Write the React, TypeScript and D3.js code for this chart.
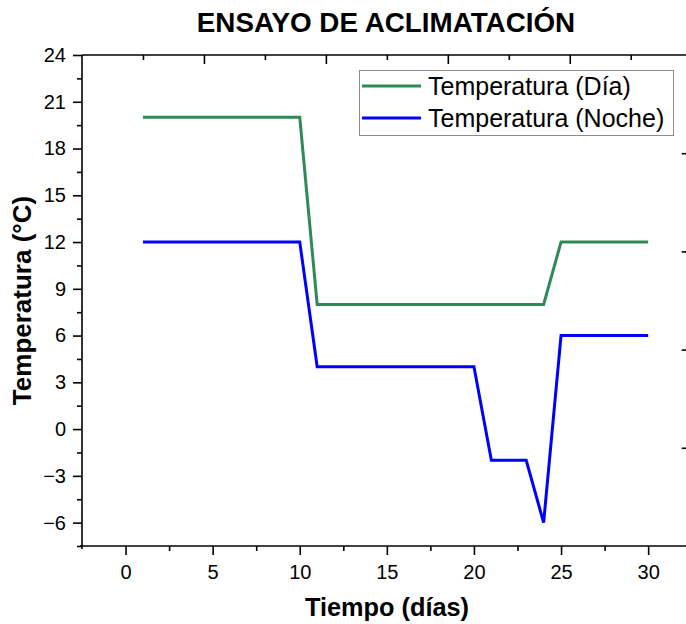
import React, { useEffect, useRef } from 'react';
import * as d3 from 'd3';

// Temperatura de día
const diaTiempo = [1, 10, 11, 24, 25, 30];
const diaTemp = [20, 20, 8, 8, 12, 12];

// Temperatura de noche
const nocheTiempo = [1, 10, 11, 20, 21, 23, 24, 25, 30];
const nocheTemp = [12, 12, 4, 4, -2, -2, -6, 6, 6];

const xTicks = [0, 5, 10, 15, 20, 25, 30];
const yTicks = [-6, -3, 0, 3, 6, 9, 12, 15, 18, 21, 24];

const series = [
  { name: 'Temperatura (Día)', color: '#2e8b57', xs: diaTiempo, ys: diaTemp },
  { name: 'Temperatura (Noche)', color: '#0000ff', xs: nocheTiempo, ys: nocheTemp },
];

const W = 686;
const H = 624;
const FONT = '"Liberation Sans", Arial, sans-serif';

function App() {
  const ref = useRef<SVGSVGElement>(null);

  useEffect(() => {
    const svg = d3.select(ref.current);
    svg.selectAll('*').remove();

    const left = 82, right = 691.7, top = 55, bottom = 546;

    const x = d3.scaleLinear().domain([-2.5, 32.5]).range([left, right]);
    const y = d3.scaleLinear().domain([-7.5, 24]).range([bottom, top]);
    const xTop = d3.scaleLinear().domain([0, 10]).range([left, right]);
    const yRight = d3.scaleLinear().domain([0, 5]).range([bottom, top]);

    const styleAxis = (g: any) => {
      g.select('.domain').remove();
      g.selectAll('line').attr('stroke', '#000').attr('stroke-width', 1.6);
      g.selectAll('text')
        .attr('font-family', FONT)
        .attr('font-size', 20)
        .attr('fill', '#000');
    };

    // bottom axis
    svg.append('g')
      .attr('transform', `translate(0,${bottom})`)
      .call(d3.axisBottom(x).tickValues(xTicks).tickSize(9).tickPadding(10).tickFormat(d3.format('d')))
      .call(styleAxis);
    svg.append('g')
      .attr('transform', `translate(0,${bottom})`)
      .call(d3.axisBottom(x).tickValues(xTicks.slice(0, -1).map(d => d + 2.5)).tickSize(5).tickFormat(() => ''))
      .call(styleAxis);

    // left axis
    svg.append('g')
      .attr('transform', `translate(${left},0)`)
      .call(d3.axisLeft(y).tickValues(yTicks).tickSize(9).tickPadding(7).tickFormat(d3.format('d')))
      .call(styleAxis);
    svg.append('g')
      .attr('transform', `translate(${left},0)`)
      .call(d3.axisLeft(y).tickValues(yTicks.map(d => d - 1.5)).tickSize(5).tickFormat(() => ''))
      .call(styleAxis);

    // top axis (inward ticks)
    svg.append('g')
      .attr('transform', `translate(0,${top})`)
      .call(d3.axisBottom(xTop).tickValues([2, 4, 6, 8]).tickSize(9).tickFormat(() => ''))
      .call(styleAxis);
    svg.append('g')
      .attr('transform', `translate(0,${top})`)
      .call(d3.axisBottom(xTop).tickValues([1, 3, 5, 7, 9]).tickSize(5).tickFormat(() => ''))
      .call(styleAxis);

    // right axis (inward ticks)
    svg.append('g')
      .attr('transform', `translate(${right},0)`)
      .call(d3.axisLeft(yRight).tickValues([1, 2, 3, 4]).tickSize(10).tickFormat(() => ''))
      .call(styleAxis);

    // frame
    const frame = svg.append('g').attr('stroke', '#000').attr('stroke-width', 1.6).attr('fill', 'none');
    frame.append('line').attr('x1', left).attr('x2', left).attr('y1', top).attr('y2', bottom + 3);
    frame.append('line').attr('x1', left - 2).attr('x2', right).attr('y1', bottom).attr('y2', bottom);
    frame.append('line').attr('x1', left).attr('x2', right).attr('y1', top).attr('y2', top);
    frame.append('line').attr('x1', right).attr('x2', right).attr('y1', top).attr('y2', bottom);

    // series
    const line = d3.line<[number, number]>().x(d => x(d[0])).y(d => y(d[1]));
    series.forEach(s => {
      const pts = s.xs.map((v, i) => [v, s.ys[i]] as [number, number]);
      svg.append('path')
        .attr('d', line(pts))
        .attr('fill', 'none')
        .attr('stroke', s.color)
        .attr('stroke-width', 3)
        .attr('stroke-linejoin', 'miter');
    });

    // legend
    const lg = svg.append('g');
    lg.append('rect')
      .attr('x', 359.5).attr('y', 70.5).attr('width', 314).attr('height', 65)
      .attr('fill', '#fff').attr('stroke', '#8c8c8c').attr('stroke-width', 1);
    series.forEach((s, i) => {
      const cy = 86 + i * 32;
      lg.append('line')
        .attr('x1', 362).attr('x2', 421).attr('y1', cy).attr('y2', cy)
        .attr('stroke', s.color).attr('stroke-width', 3);
      lg.append('text')
        .attr('x', 428).attr('y', cy + 9)
        .attr('font-family', FONT).attr('font-size', 25).attr('fill', '#000')
        .text(s.name);
    });

    // titles
    svg.append('text')
      .attr('x', 386).attr('y', 32)
      .attr('text-anchor', 'middle')
      .attr('font-family', FONT).attr('font-size', 27.8).attr('font-weight', 'bold')
      .text('ENSAYO DE ACLIMATACIÓN');
    svg.append('text')
      .attr('x', 387).attr('y', 616)
      .attr('text-anchor', 'middle')
      .attr('font-family', FONT).attr('font-size', 25.3).attr('font-weight', 'bold')
      .text('Tiempo (días)');
    svg.append('text')
      .attr('transform', `translate(31,${(top + bottom) / 2}) rotate(-90)`)
      .attr('text-anchor', 'middle')
      .attr('font-family', FONT).attr('font-size', 26).attr('font-weight', 'bold')
      .text('Temperatura (°C)');
  }, []);

  return (
    <svg
      ref={ref}
      width={W}
      height={H}
      style={{ position: 'absolute', left: 0, top: 0, background: '#fff' }}
    />
  );
}

export default App;
